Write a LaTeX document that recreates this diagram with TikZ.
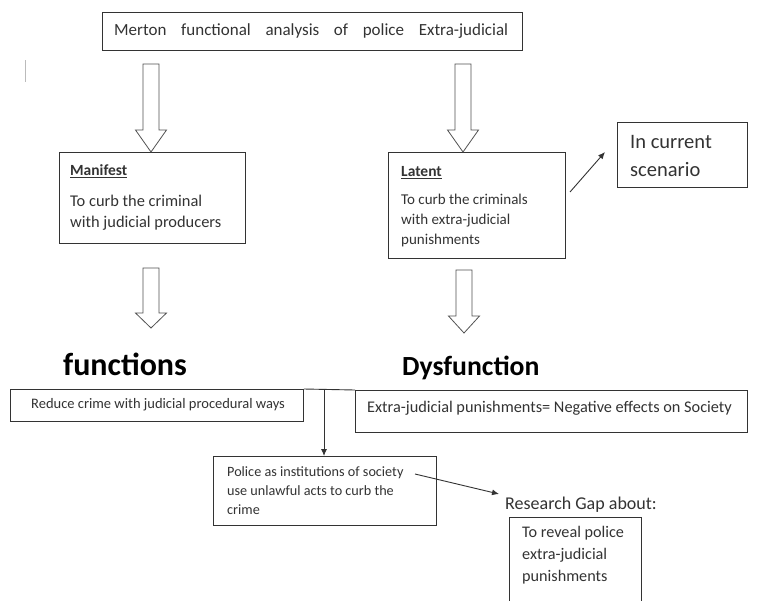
\documentclass[tikz,border=0pt]{standalone}
\usepackage{fontspec}
\setmainfont{Carlito}
\usetikzlibrary{arrows.meta,calc}
\definecolor{ink}{HTML}{333333}
\definecolor{faint}{HTML}{BBBBBB}
\newcommand\blockarr[4]{\draw[blk] (#1-8,#2) -- (#1+8,#2) -- (#1+8,#3) -- (#1+15.5,#3) -- (#1,#4) -- (#1-15.5,#3) -- (#1-8,#3) -- cycle;}
\begin{document}
\begin{tikzpicture}[x=1pt,y=-1pt,
  box/.style={draw=ink, line width=0.9pt, rectangle, inner sep=0pt, anchor=north west},
  txt/.style={text=ink, inner sep=0pt, anchor=west, align=left},
  blk/.style={draw=ink!85, line width=0.8pt, fill=white},
  conn/.style={draw=ink, line width=0.9pt, -{Latex[length=7pt,width=6pt]}}]
\useasboundingbox (0,0) rectangle (758,600);
\fill[white] (0,0) rectangle (758,600);
% stray mark
\draw[faint, line width=0.6pt] (25,60) -- (25,82);
% top box
\node[box, minimum width=420, minimum height=38] (top) at (102,12) {};
\node[txt, font=\fontsize{17}{20}\selectfont] (toptxt) at (114,31) {\makebox[394pt][s]{Merton functional analysis of police Extra-judicial}};
% manifest
\node[box, minimum width=186, minimum height=91] (manifest) at (59,152) {};
\node[txt, font=\bfseries\fontsize{15.5}{18}\selectfont] (mtitle) at (70,171) {\underline{Manifest}};
\node[txt, font=\fontsize{16.4}{21}\selectfont] (mbody) at (70,212.5) {To curb the criminal\\with judicial producers};
% latent
\node[box, minimum width=177, minimum height=106] (latent) at (388,152) {};
\node[txt, font=\bfseries\fontsize{15.5}{18}\selectfont] (ltitle) at (401,173) {\underline{Latent}};
\node[txt, font=\fontsize{15}{20}\selectfont] (lbody) at (401,220) {To curb the criminals\\with extra-judicial\\punishments};
% current
\node[box, minimum width=130, minimum height=65] (current) at (617,122) {};
\node[txt, font=\fontsize{20.5}{28}\selectfont] (ctxt) at (630,156) {In current\\scenario};
\coordinate (lstart) at (570,192);
\coordinate (lend) at (605,152);
\draw[conn] (lstart) -- (lend);
% block arrows
\blockarr{151}{64}{130}{152}
\blockarr{463}{64}{130}{152}
\blockarr{151}{268}{313}{328}
\blockarr{464}{270}{316}{333}
% headings
\node[anchor=base west, inner sep=0pt, text=black, font=\bfseries\fontsize{32}{35}\selectfont] (func) at (63,375) {functions};
\node[anchor=base west, inner sep=0pt, text=black, font=\bfseries\fontsize{27.7}{32}\selectfont] (dysf) at (402,375) {Dysfunction};
% reduce box
\node[box, minimum width=293, minimum height=32] (reduce) at (10,389) {};
\node[txt, font=\fontsize{14.5}{17}\selectfont] (rtxt) at (31,405) {Reduce crime with judicial procedural ways};
% dys box
\node[box, minimum width=392, minimum height=42] (dys) at (355,390) {};
\node[txt, font=\fontsize{16.3}{19}\selectfont] (dtxt) at (367,408) {Extra-judicial punishments= Negative effects on Society};
% link line
\draw[ink, line width=0.9pt] (reduce.north east) -- (dys.north west);
\coordinate (split) at (324,389.5);
% police box
\node[box, minimum width=223, minimum height=69] (police) at (213,456) {};
\node[txt, font=\fontsize{14.2}{19}\selectfont] (ptxt) at (227,491) {Police as institutions of society\\use unlawful acts to curb the\\crime};
\draw[conn] (split) -- (split |- police.north);
% research gap
\node[txt, font=\fontsize{18}{22}\selectfont] (gap) at (505,505) {Research Gap about:};
\coordinate (pstart) at (415,474);
\coordinate (pend) at (499,494);
\draw[conn] (pstart) -- (pend);
\draw[ink, line width=0.9pt] (509,601) -- (509,517) -- (641,517) -- (641,601);
\node[txt, font=\fontsize{16.2}{22}\selectfont] (rtxt2) at (522,555) {To reveal police\\extra-judicial\\punishments};
\end{tikzpicture}
\end{document}
